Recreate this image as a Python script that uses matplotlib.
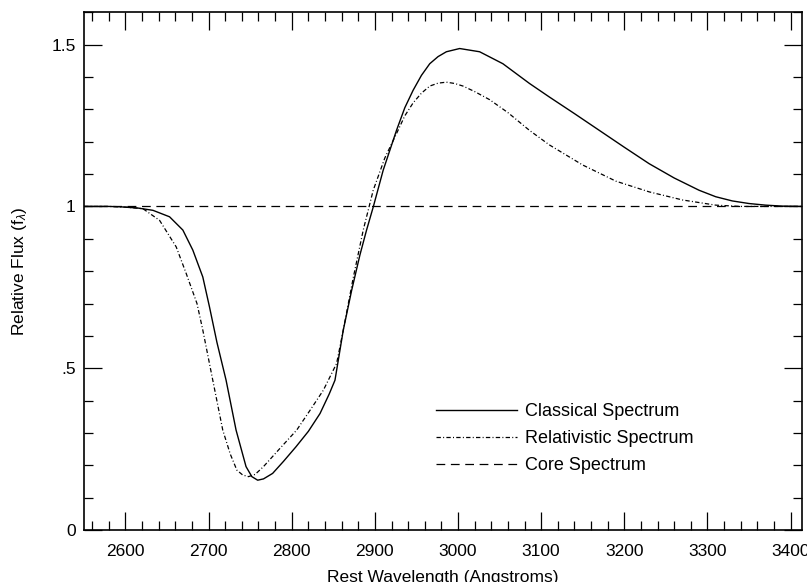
import matplotlib
matplotlib.use("Agg")
import matplotlib.pyplot as plt
from matplotlib.ticker import MultipleLocator, FixedLocator

plt.rcParams['font.family'] = ['Liberation Sans', 'DejaVu Sans']
plt.rcParams['mathtext.fontset'] = 'custom'
plt.rcParams['mathtext.rm'] = 'Liberation Sans'
plt.rcParams['mathtext.it'] = 'Liberation Sans:italic'

# 经典谱
wl_classical = [2550, 2580, 2593, 2615, 2633, 2653, 2669, 2681, 2693, 2701, 2710, 2721,
                2733, 2745, 2752, 2759, 2766, 2777, 2790, 2805, 2820, 2834, 2845, 2852,
                2862, 2872, 2882, 2890, 2898, 2910, 2926, 2936, 2946, 2956, 2966, 2976,
                2986, 3002, 3026, 3054, 3086, 3110, 3140, 3170, 3200, 3230, 3260, 3290,
                3310, 3330, 3350, 3370, 3390, 3414]
flux_classical = [1.0, 1.0, 0.999, 0.995, 0.988, 0.968, 0.927, 0.865, 0.782, 0.69, 0.58, 0.463,
                  0.309, 0.196, 0.165, 0.154, 0.158, 0.175, 0.212, 0.257, 0.305, 0.36, 0.42, 0.463,
                  0.618, 0.74, 0.85, 0.927, 0.998, 1.112, 1.235, 1.305, 1.359, 1.405, 1.441, 1.463,
                  1.478, 1.488, 1.478, 1.441, 1.38, 1.338, 1.287, 1.235, 1.183, 1.132, 1.088, 1.05,
                  1.03, 1.017, 1.009, 1.004, 1.001, 1.0]

# 相对论谱
wl_relativistic = [2550, 2580, 2600, 2621, 2641, 2661, 2673, 2686, 2693, 2705, 2717, 2726,
                   2734, 2741, 2748, 2756, 2766, 2785, 2806, 2822, 2838, 2854, 2862, 2874,
                   2886, 2898, 2912, 2926, 2936, 2946, 2956, 2966, 2976, 2986, 2996, 3006,
                   3020, 3038, 3060, 3086, 3110, 3150, 3190, 3230, 3270, 3310, 3340, 3414]
flux_relativistic = [1.0, 1.0, 0.998, 0.993, 0.957, 0.875, 0.793, 0.70, 0.618, 0.463, 0.309, 0.235,
                     0.185, 0.17, 0.165, 0.172, 0.196, 0.25, 0.309, 0.37, 0.432, 0.515, 0.618, 0.78,
                     0.927, 1.05, 1.15, 1.225, 1.28, 1.32, 1.35, 1.372, 1.381, 1.384, 1.38, 1.372,
                     1.355, 1.33, 1.29, 1.235, 1.19, 1.128, 1.078, 1.045, 1.02, 1.004, 1.0, 1.0]

# 核心谱
wl_core = [2550, 3414]
flux_core = [1.0, 1.0]

x_ticks = [2600, 2700, 2800, 2900, 3000, 3100, 3200, 3300, 3400]
y_ticks = [0, 0.5, 1.0, 1.5]
y_ticklabels = ['0', '.5', '1', '1.5']

fig = plt.figure(figsize=(8.07, 5.82), dpi=100)
ax = fig.add_axes([0.104, 0.0893, 0.890, 0.8896])

ax.plot(wl_classical, flux_classical, color='black', lw=1.0, label='Classical Spectrum')
ax.plot(wl_relativistic, flux_relativistic, color='black', lw=0.9,
        dashes=(3.5, 1.8, 0.8, 1.8), label='Relativistic Spectrum')
ax.plot(wl_core, flux_core, color='black', lw=0.9, dashes=(7, 4.5), label='Core Spectrum')

ax.set_xlim(2550, 3414)
ax.set_ylim(0, 1.6)
ax.xaxis.set_major_locator(FixedLocator(x_ticks))
ax.xaxis.set_minor_locator(MultipleLocator(20))
ax.yaxis.set_major_locator(FixedLocator(y_ticks))
ax.set_yticklabels(y_ticklabels)
ax.yaxis.set_minor_locator(MultipleLocator(0.1))

ax.tick_params(which='both', direction='in', top=True, right=True, width=0.9, labelsize=12.5)
ax.tick_params(axis='x', which='major', length=13, pad=10)
ax.tick_params(axis='y', which='major', length=13, pad=6)
ax.tick_params(which='minor', length=6.5)
for sp in ax.spines.values():
    sp.set_linewidth(1.2)

ax.set_xlabel('Rest Wavelength (Angstroms)', fontsize=12.5, labelpad=8)
ax.set_ylabel(r'Relative Flux (f$_{\lambda}$)', fontsize=12.5, labelpad=16)

ax.legend(loc='upper left', bbox_to_anchor=(0.49, 0.245), frameon=False, fontsize=13,
          handlelength=4.47, handletextpad=0.44, labelspacing=0.56, borderpad=0,
          borderaxespad=0)

fig.savefig('out.png', dpi=100)
